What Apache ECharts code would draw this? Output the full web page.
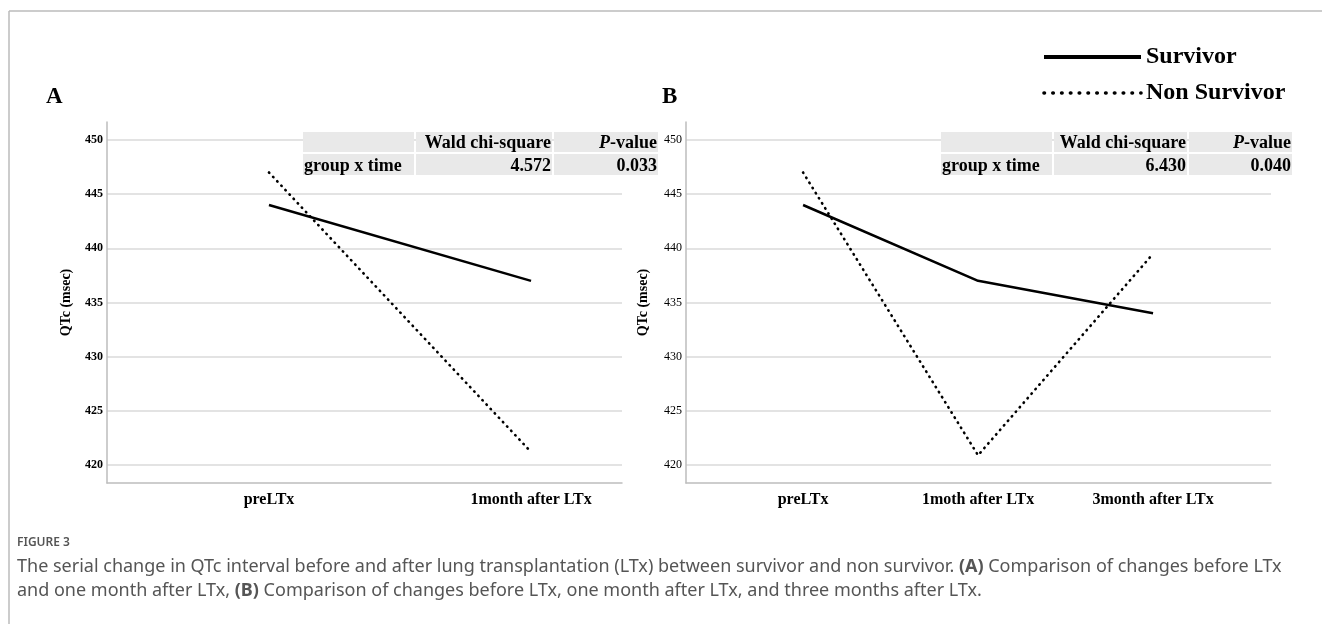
<!DOCTYPE html>
<html>
<head>
<meta charset="utf-8">
<script src="https://cdn.jsdelivr.net/npm/echarts@6/dist/echarts.min.js"></script>
<style>
  html, body { margin: 0; padding: 0; background: #fff; }
  #chart { width: 1322px; height: 624px; }
</style>
</head>
<body>
<div id="chart"></div>
<script>
// data
var categoriesA = ['preLTx', '1month after LTx'];
var categoriesB = ['preLTx', '1moth after LTx', '3month after LTx'];
var survivorA = [444, 437];
var nonSurvivorA = [447, 421.2];
var survivorB = [444, 437, 434];
var nonSurvivorB = [447, 420.9, 439.5];
var yTicks = [420, 425, 430, 435, 440, 445, 450];
var tableHeader = ['', 'Wald chi-square', 'P-value'];
var tableRowA = ['group x time', '4.572', '0.033'];
var tableRowB = ['group x time', '6.430', '0.040'];

var serif = 'Liberation Serif';
var sans = 'Noto Sans';

function pairs(values) {
    return values.map(function (v, i) { return [i, v]; });
}

function xAxisFor(gridIndex, cats, min, max) {
    return {
        type: 'value',
        gridIndex: gridIndex,
        min: min,
        max: max,
        axisLine: { show: true, onZero: false, lineStyle: { color: '#bdbdbd', width: 1.5 } },
        axisTick: { show: false, customValues: cats.map(function (c, i) { return i; }) },
        splitLine: { show: false },
        axisLabel: {
            customValues: cats.map(function (c, i) { return i; }),
            formatter: function (v) { return cats[v]; },
            margin: 9,
            color: '#000',
            fontFamily: serif,
            fontWeight: 'bold',
            fontSize: 16
        }
    };
}

function yAxisFor(gridIndex, bold, nameGap) {
    return {
        type: 'value',
        gridIndex: gridIndex,
        min: 418.34,
        max: 451.66,
        name: 'QTc (msec)',
        nameLocation: 'middle',
        nameGap: nameGap,
        nameTextStyle: { fontFamily: serif, fontWeight: 'bold', fontSize: 14, color: '#000' },
        axisLine: { show: true, onZero: false, lineStyle: { color: '#bdbdbd', width: 1.5 } },
        axisTick: { show: false, customValues: yTicks },
        splitLine: { show: true, lineStyle: { color: '#dadada', width: 1.5 } },
        axisLabel: {
            customValues: yTicks,
            margin: 4,
            color: '#000',
            fontFamily: serif,
            fontWeight: bold ? 'bold' : 'normal',
            fontSize: 12
        }
    };
}

var solidStyle = { color: '#000', width: 2.5, type: 'solid' };
var dotStyle = { color: '#000', width: 2.6, type: [0.5, 5.5], cap: 'round' };

function lineSeries(name, values, idx, style) {
    return {
        name: name,
        type: 'line',
        xAxisIndex: idx,
        yAxisIndex: idx,
        data: pairs(values),
        symbol: 'none',
        lineStyle: style,
        itemStyle: { color: '#000' },
        z: 3
    };
}

// stats table drawn with graphic rects/text
function tableGraphics(left, cols, row) {
    var tops = [131, 153];
    var heights = [22, 23];
    var out = [];
    var x = left;
    cols.forEach(function (w) {
        for (var r = 0; r < 2; r++) {
            out.push({
                type: 'rect',
                shape: { x: x + 1, y: tops[r] + 1, width: w - 2, height: heights[r] - 2 },
                style: { fill: '#e9e9e9' },
                z: 10
            });
        }
        x += w;
    });
    var right1 = left + cols[0] + cols[1];
    var right2 = right1 + cols[2];
    var txt = function (xx, yy, text, align) {
        return {
            type: 'text', x: xx, y: yy, z: 11,
            style: {
                text: text, align: align, verticalAlign: 'middle',
                font: 'bold 18px "' + serif + '"', fill: '#000',
                rich: { i: { fontStyle: 'italic', fontWeight: 'bold', fontSize: 18, fontFamily: serif } }
            }
        };
    };
    out.push(txt(right1 - 2, 143, tableHeader[1], 'right'));
    out.push(txt(right2 - 2, 143, '{i|P}-value', 'right'));
    out.push(txt(left + 2, 166, row[0], 'left'));
    out.push(txt(right1 - 2, 166, row[1], 'right'));
    out.push(txt(right2 - 2, 166, row[2], 'right'));
    return out;
}

var chart = echarts.init(document.getElementById('chart'), null, { renderer: 'canvas' });

var graphics = [
    { type: 'line', shape: { x1: 9, y1: 11, x2: 1322, y2: 11 }, style: { stroke: '#bbb', lineWidth: 1.5 } },
    { type: 'line', shape: { x1: 9, y1: 11, x2: 9, y2: 624 }, style: { stroke: '#bbb', lineWidth: 1.5 } },
    { type: 'text', x: 46, y: 97, style: { text: 'A', font: 'bold 23px "' + serif + '"', fill: '#000', verticalAlign: 'middle' } },
    { type: 'text', x: 662, y: 97, style: { text: 'B', font: 'bold 23px "' + serif + '"', fill: '#000', verticalAlign: 'middle' } },
    { type: 'text', x: 17, y: 543, style: { text: 'FIGURE 3', font: '600 12px "' + sans + '"', fill: '#555', verticalAlign: 'middle' } },
    {
        type: 'text', x: 17, y: 567,
        style: {
            text: 'The serial change in QTc interval before and after lung transplantation (LTx) between survivor and non survivor. {b|(A)} Comparison of changes before LTx',
            font: '18px "' + sans + '"', fill: '#555', verticalAlign: 'middle',
            rich: { b: { fontWeight: 'bold', fontSize: 18, fontFamily: sans, fill: '#555' } }
        }
    },
    {
        type: 'text', x: 17, y: 591,
        style: {
            text: 'and one month after LTx, {b|(B)} Comparison of changes before LTx, one month after LTx, and three months after LTx.',
            font: '18px "' + sans + '"', fill: '#555', verticalAlign: 'middle',
            rich: { b: { fontWeight: 'bold', fontSize: 18, fontFamily: sans, fill: '#555' } }
        }
    }
].concat(tableGraphics(302, [113, 138, 106], tableRowA))
 .concat(tableGraphics(940, [113, 135, 105], tableRowB));

chart.setOption({
    animation: false,
    backgroundColor: '#fff',
    legend: {
        orient: 'vertical',
        left: 1042,
        top: 45,
        padding: 0,
        itemWidth: 97,
        itemHeight: 26,
        itemGap: 12,
        textStyle: { fontFamily: serif, fontWeight: 'bold', fontSize: 24, color: '#000' },
        data: [
            {
                name: 'Survivor',
                itemStyle: { opacity: 0 },
                lineStyle: { width: 4, type: 'solid', color: '#000' }
            },
            {
                name: 'Non Survivor',
                itemStyle: { opacity: 0 },
                lineStyle: { width: 3.6, type: [0.5, 8.3], cap: 'round', color: '#000' }
            }
        ]
    },
    grid: [
        { left: 107, top: 122, width: 515, height: 361 },
        { left: 686, top: 122, width: 585, height: 361 }
    ],
    xAxis: [
        xAxisFor(0, categoriesA, -0.618, 1.347),
        xAxisFor(1, categoriesB, -0.669, 2.674)
    ],
    yAxis: [
        yAxisFor(0, true, 34),
        yAxisFor(1, false, 36)
    ],
    series: [
        lineSeries('Survivor', survivorA, 0, solidStyle),
        lineSeries('Non Survivor', nonSurvivorA, 0, dotStyle),
        lineSeries('Survivor', survivorB, 1, solidStyle),
        lineSeries('Non Survivor', nonSurvivorB, 1, dotStyle)
    ],
    graphic: graphics
});
</script>
</body>
</html>
